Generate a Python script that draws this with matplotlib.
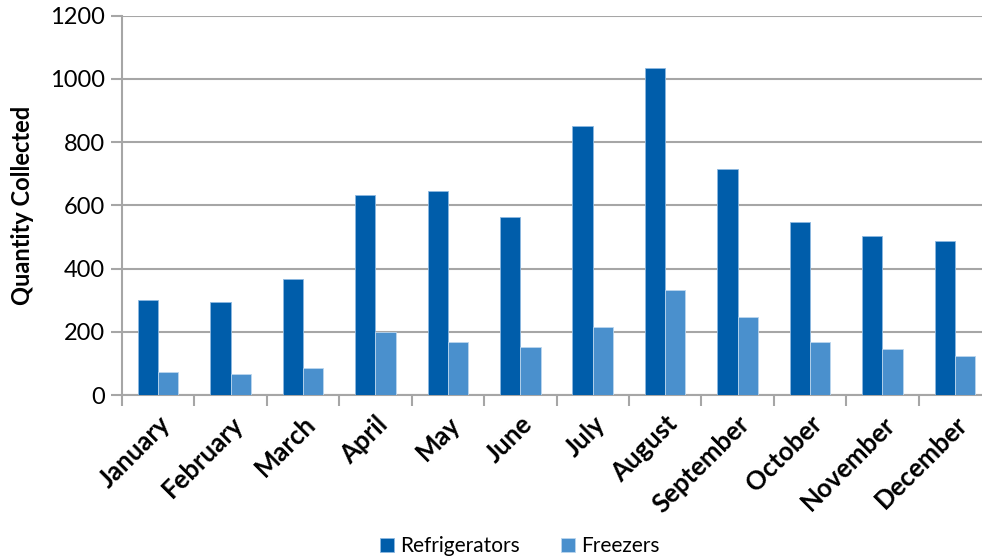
import numpy as np
import matplotlib.pyplot as plt
from matplotlib.ticker import FixedLocator

# Data
months = ['January', 'February', 'March', 'April', 'May', 'June',
          'July', 'August', 'September', 'October', 'November', 'December']
refrigerators = [300, 293, 366, 634, 644, 564, 852, 1034, 714, 548, 504, 487]
freezers = [74, 65, 86, 198, 167, 151, 215, 332, 248, 167, 147, 122]

dark_blue = '#005DAA'
light_blue = '#4A90CD'
grid_gray = '#A6A6A6'

plt.rcParams['font.family'] = ['Lato', 'DejaVu Sans']

fig = plt.figure(figsize=(9.82, 5.6), dpi=100)
# axes deliberately runs a little past the right edge like the original crop
ax = fig.add_axes([122 / 982, 1 - 395 / 560, 869 / 982, (395 - 15.7) / 560])

x = np.arange(len(months))
w = 0.28
ax.bar(x - w / 2, refrigerators, w, color=dark_blue, edgecolor='#8DB8E0',
       linewidth=0.6, label='Refrigerators', zorder=3)
ax.bar(x + w / 2, freezers, w, color=light_blue, edgecolor='#BBD6EE',
       linewidth=0.6, label='Freezers', zorder=3)

ax.set_xlim(-0.5, len(months) - 0.5)
ax.set_ylim(0, 1200)
ax.set_yticks(np.arange(0, 1201, 200))
ax.yaxis.grid(True, color=grid_gray, linewidth=1.5, zorder=0)

for side in ['top', 'right']:
    ax.spines[side].set_visible(False)
for side in ['left', 'bottom']:
    ax.spines[side].set_color(grid_gray)
    ax.spines[side].set_linewidth(1.5)

# category labels without ticks, ticks at category boundaries
ax.set_xticks(x)
ax.set_xticklabels(months, rotation=45, ha='right', va='top',
                   rotation_mode='anchor', fontsize=18.5, fontweight='bold')
ax.tick_params(axis='x', which='major', length=0, pad=12)
ax.xaxis.set_minor_locator(FixedLocator(np.arange(-0.5, len(months), 1.0)))
ax.tick_params(axis='x', which='minor', length=8, width=1.5, color=grid_gray)
ax.tick_params(axis='y', length=8, width=1.5, color=grid_gray,
               labelsize=17, pad=4)

ax.set_ylabel('Quantity Collected', fontsize=17, fontweight='bold', labelpad=12)

fig.legend(loc='center', bbox_to_anchor=(520 / 982, 1 - 546 / 560), ncol=2,
           frameon=False, fontsize=15, handlelength=0.65, handleheight=0.65,
           columnspacing=2.0, handletextpad=0.3)

fig.savefig('out.png', dpi=100)
